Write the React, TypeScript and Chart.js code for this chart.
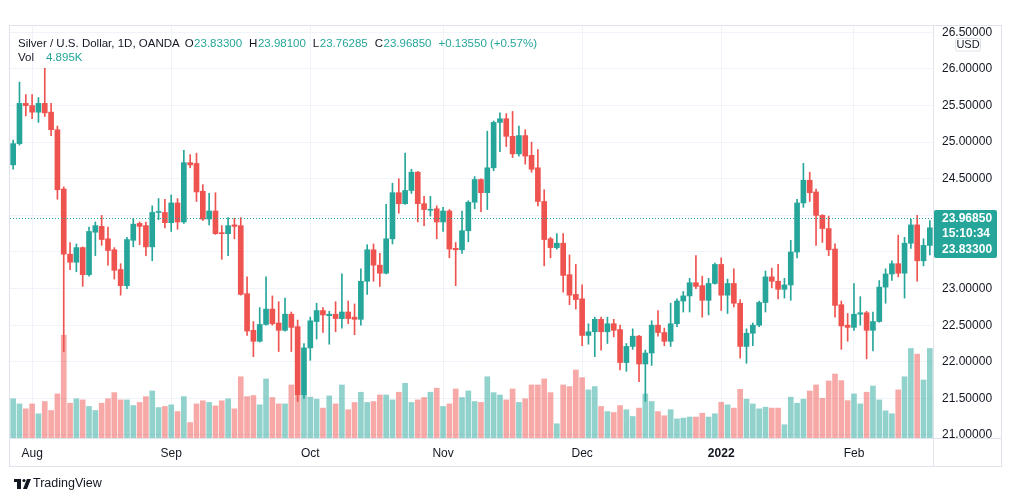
import React, { useEffect, useRef } from "react";
import { Chart, registerables } from "chart.js";

Chart.register(...registerables);

const FONT = "'Liberation Sans', Arial, sans-serif";
const UP = "#26a69a";
const DOWN = "#ef5350";
const UP_VOL = "rgba(38,166,154,0.5)";
const DOWN_VOL = "rgba(239,83,80,0.5)";
const TEXT = "#131722";
const GRID = "#f0f3fa";
const BORDER = "#e0e3eb";

const symbolTitle = "Silver / U.S. Dollar, 1D, OANDA";
const countdown = "15:10:34";
const currency = "USD";

const opens = [24.69,24.98,25.53,25.50,25.41,25.53,25.41,25.17,24.36,23.47,
23.36,23.56,23.19,23.77,23.85,23.68,23.53,23.26,23.04,23.66,
23.89,23.86,23.57,24.04,24.04,23.90,24.17,23.91,24.72,24.71,
24.33,23.95,24.06,23.76,23.75,23.87,23.86,22.93,22.43,22.28,
22.51,22.72,22.53,22.43,22.65,22.48,21.55,22.19,22.55,22.70,
22.63,22.65,22.59,22.68,22.61,22.58,23.10,23.53,23.32,23.21,
23.68,24.31,24.16,24.34,24.59,24.16,24.07,24.09,23.91,24.06,
23.55,23.53,23.79,24.18,24.49,24.31,24.65,25.27,25.32,25.08,
24.84,25.09,24.82,24.65,24.19,23.68,23.56,23.62,23.19,22.92,
22.86,22.36,22.41,22.58,22.41,22.52,22.44,21.99,22.21,22.35,
21.97,22.12,22.50,22.40,22.28,22.52,22.83,22.90,23.08,23.04,
22.84,23.07,23.33,22.91,23.07,22.80,22.21,22.39,22.50,22.81,
23.16,23.10,22.99,23.05,23.50,24.17,24.48,24.32,24.00,23.82,
23.54,22.78,22.50,22.47,22.65,22.67,22.43,22.55,23.02,23.20,
23.34,23.21,23.62,23.87,23.38,23.59,23.833];

const highs = [25.03,25.82,25.65,25.65,25.61,26.01,25.53,25.22,24.39,23.63,
23.61,23.57,23.84,23.91,24.00,23.84,23.56,23.34,23.70,23.96,
23.91,23.91,24.13,24.23,24.22,24.28,24.23,24.89,24.83,24.85,
24.42,24.30,24.31,23.86,23.97,23.96,23.97,23.16,22.55,22.74,
23.16,22.90,22.82,22.87,22.68,22.57,22.25,22.61,22.80,22.74,
22.69,22.82,23.20,22.83,22.79,23.27,23.60,23.61,23.48,24.15,
24.44,24.50,24.85,24.63,24.60,24.26,24.26,24.13,24.11,24.08,
23.63,24.06,24.20,24.53,24.50,25.15,25.29,25.40,25.39,25.42,
25.22,25.17,25.00,24.90,24.35,23.70,23.75,23.75,23.46,23.33,
23.05,22.52,22.61,22.61,22.61,22.58,22.50,22.25,22.45,22.36,
22.16,22.56,22.70,22.46,22.80,22.86,22.96,23.14,23.45,23.17,
23.14,23.35,23.42,23.13,23.27,22.85,22.45,22.53,22.83,23.24,
23.28,23.33,23.14,23.66,24.22,24.71,24.59,24.36,24.01,23.99,
23.61,22.83,22.66,23.07,22.89,22.69,22.68,23.11,23.27,23.38,
23.73,23.70,23.95,24.00,23.68,23.93,23.981];

const lows = [24.63,24.96,25.36,25.32,25.27,25.35,25.09,24.22,22.14,23.26,
23.23,23.03,23.17,23.45,23.59,23.32,23.13,22.91,23.00,23.57,
23.60,23.45,23.38,23.94,23.83,23.78,23.81,23.89,24.65,24.19,
23.93,23.87,23.74,23.40,23.45,23.68,22.91,22.36,22.07,22.27,
22.50,22.50,22.14,22.42,22.14,21.46,21.50,22.02,22.31,22.40,
22.24,22.41,22.46,22.52,22.37,22.50,22.92,23.10,23.03,23.20,
23.61,24.03,24.15,24.30,23.91,23.86,23.99,23.68,23.78,23.42,
23.04,23.48,23.64,24.09,24.05,24.08,24.61,24.87,24.94,24.79,
24.81,24.70,24.59,24.13,23.31,23.42,23.54,22.95,22.78,22.72,
22.22,22.24,22.07,22.16,22.25,22.34,21.89,21.87,22.17,21.73,
21.46,21.95,22.35,22.22,22.21,22.48,22.68,22.68,23.00,22.61,
22.64,23.06,22.70,22.66,22.75,22.05,21.98,22.22,22.48,22.68,
23.01,22.86,22.87,22.84,23.42,24.11,24.19,23.59,23.63,23.45,
22.61,22.17,22.28,22.43,22.50,22.04,22.15,22.54,22.80,23.11,
23.16,22.87,23.55,23.10,23.31,23.46,23.76285];

const closes = [24.98,25.53,25.50,25.41,25.53,25.40,25.17,24.35,23.47,23.36,
23.56,23.19,23.78,23.86,23.67,23.52,23.25,23.04,23.67,23.88,
23.85,23.57,24.04,24.05,23.90,24.17,23.91,24.72,24.69,24.32,
23.95,24.06,23.75,23.75,23.86,23.85,22.92,22.42,22.28,22.51,
22.72,22.52,22.43,22.65,22.47,21.55,22.19,22.56,22.70,22.64,
22.65,22.59,22.68,22.59,22.58,23.10,23.53,23.32,23.21,23.68,
24.31,24.16,24.34,24.59,24.16,24.08,24.08,23.91,24.06,23.54,
23.53,23.79,24.18,24.49,24.31,24.65,25.27,25.32,25.08,24.84,
25.09,24.81,24.63,24.19,23.67,23.56,23.62,23.18,22.91,22.85,
22.36,22.41,22.58,22.41,22.52,22.43,21.99,22.21,22.35,21.97,
22.12,22.50,22.40,22.28,22.52,22.83,22.90,23.08,23.03,22.84,
23.07,23.33,22.91,23.07,22.80,22.21,22.39,22.50,22.81,23.16,
23.10,22.99,23.05,23.50,24.17,24.48,24.31,24.00,23.82,23.53,
22.77,22.49,22.47,22.65,22.67,22.43,22.55,23.02,23.20,23.34,
23.21,23.62,23.87,23.38,23.59,23.83,23.9685];

// volume in thousands
const volumes = [2.15,1.87,1.60,1.87,1.33,2.00,1.51,2.42,5.64,1.91,
2.15,2.09,1.73,1.51,1.91,2.15,2.49,2.09,2.09,1.78,
1.95,2.27,2.58,1.67,1.73,1.82,1.45,2.27,0.85,1.87,
2.04,1.95,1.76,2.04,2.15,1.60,3.36,2.27,2.33,1.82,
3.24,2.22,1.87,1.87,2.91,2.36,2.36,2.24,2.13,1.64,
2.31,1.87,2.91,1.55,1.95,2.51,1.95,2.00,2.36,2.36,
2.09,2.51,3.00,1.95,2.09,2.22,2.51,2.73,1.73,1.87,
2.69,2.22,2.58,2.00,1.95,3.36,2.49,2.36,2.09,2.69,
1.95,2.15,2.91,2.91,3.24,2.49,0.78,2.91,2.82,3.73,
3.31,2.64,2.82,1.73,1.45,1.40,1.78,1.55,1.18,1.64,
2.42,2.00,1.45,1.22,1.55,1.05,1.09,1.15,1.15,1.36,
1.15,1.33,1.96,1.82,1.64,2.67,2.13,1.87,1.60,1.69,
1.64,1.64,0.73,2.24,1.91,2.13,2.58,2.91,2.18,3.13,
3.51,3.15,2.05,2.42,1.87,2.51,2.85,2.09,1.49,1.33,
2.64,3.36,4.91,4.60,3.18,4.91,4.895];

const monthTickLabels = ["Aug", "Sep", "Oct", "Nov", "Dec", "2022", "Feb"];
const priceTicks = [21.0, 21.5, 22.0, 22.5, 23.0, 23.5, 24.0, 24.5, 25.0, 25.5, 26.0, 26.5];
const closedDays = ["2021-12-24"];
const firstDay = "2021-07-28";

const PRICE_MIN = 20.959;
const PRICE_MAX = 26.587;
const VOL_MAX = 22.6;
const VISIBLE = 146;

function tradingDays(n: number): string[] {
  const out: string[] = [];
  const d = new Date(firstDay + "T00:00:00Z");
  while (out.length < n) {
    const wd = d.getUTCDay();
    const s = d.toISOString().slice(0, 10);
    if (wd !== 0 && wd !== 6 && !closedDays.includes(s)) out.push(s);
    d.setUTCDate(d.getUTCDate() + 1);
  }
  return out;
}

const dates = tradingDays(opens.length);

export default function App() {
  const ref = useRef<HTMLCanvasElement>(null);

  useEffect(() => {
    const canvas = ref.current;
    if (!canvas) return;
    const last = opens.length - 1;
    const n = VISIBLE;
    const isUp = (i: number) => closes[i] >= opens[i];
    const labels = dates.slice(0, n);
    const monthIdx: number[] = [];
    for (let i = 1; i < n; i++) {
      if (dates[i].slice(5, 7) !== dates[i - 1].slice(5, 7)) monthIdx.push(i);
    }
    const candleColors = labels.map((_, i) => (isUp(i) ? UP : DOWN));
    const volColors = labels.map((_, i) => (isUp(i) ? UP_VOL : DOWN_VOL));

    const overlay = {
      id: "overlay",
      afterDraw(chart: any) {
        const { ctx, chartArea: a, scales } = chart;
        const y = scales.y;
        ctx.save();
        const lastUp = closes[last] >= opens[last];
        const lastColor = lastUp ? UP : DOWN;
        const py = Math.round(y.getPixelForValue(closes[last])) + 0.5;
        ctx.strokeStyle = lastColor;
        ctx.lineWidth = 1;
        ctx.setLineDash([1, 2]);
        ctx.beginPath();
        ctx.moveTo(a.left, py);
        ctx.lineTo(a.right, py);
        ctx.stroke();
        ctx.setLineDash([]);

        ctx.fillStyle = "#ffffff";
        ctx.fillRect(a.right + 1, 0, 80, a.top);
        ctx.fillRect(a.right + 1, a.bottom + 1, 80, 28);

        ctx.strokeStyle = BORDER;
        ctx.lineWidth = 1;
        const L = 9.5, T = 25.5, R = 1001.5, B = 466.5;
        ctx.strokeRect(L, T, R - L, B - T);
        ctx.beginPath();
        ctx.moveTo(Math.round(a.right) + 0.5, T);
        ctx.lineTo(Math.round(a.right) + 0.5, B);
        ctx.moveTo(L, Math.round(a.bottom) + 0.5);
        ctx.lineTo(R, Math.round(a.bottom) + 0.5);
        ctx.stroke();

        const bx = Math.round(a.right) + 1;
        ctx.fillStyle = lastColor;
        ctx.beginPath();
        (ctx as any).roundRect(bx, py - 8.5, 997 - bx, 48, 2);
        ctx.fill();
        ctx.fillStyle = "#ffffff";
        ctx.font = `bold 12px ${FONT}`;
        ctx.textAlign = "left";
        ctx.textBaseline = "middle";
        const tx = a.right + 9;
        ctx.fillText(closes[last].toFixed(5), tx, py);
        ctx.fillText(countdown, tx, py + 15.5);
        ctx.fillText(opens[last].toFixed(5), tx, py + 31);

        ctx.fillStyle = "#ffffff";
        ctx.strokeStyle = BORDER;
        ctx.beginPath();
        (ctx as any).roundRect(955.5, 38.5, 25, 12.5, 2);
        ctx.fill();
        ctx.stroke();
        ctx.fillStyle = TEXT;
        ctx.font = `11px ${FONT}`;
        ctx.textAlign = "center";
        ctx.fillText(currency, 968, 45);

        // header legend
        ctx.textAlign = "left";
        ctx.font = `11.5px ${FONT}`;
        ctx.fillStyle = TEXT;
        ctx.fillText(symbolTitle, 18, 44);
        let x = 18 + ctx.measureText(symbolTitle).width + 5;
        const parts: [string, string][] = [
          ["O", opens[last].toFixed(5)],
          ["H", highs[last].toFixed(5)],
          ["L", lows[last].toFixed(5)],
          ["C", closes[last].toFixed(5)],
        ];
        for (const [k, v] of parts) {
          ctx.fillStyle = TEXT;
          ctx.fillText(k, x, 44);
          x += ctx.measureText(k).width + 0.5;
          ctx.fillStyle = lastColor;
          ctx.fillText(v, x, 44);
          x += ctx.measureText(v).width + 7;
        }
        const ch = closes[last] - opens[last];
        const pct = (ch / opens[last]) * 100;
        const sign = ch >= 0 ? "+" : "";
        ctx.fillStyle = lastColor;
        ctx.fillText(`${sign}${ch.toFixed(5)} (${sign}${pct.toFixed(2)}%)`, x, 44);
        ctx.fillStyle = TEXT;
        ctx.fillText("Vol", 18, 58);
        ctx.fillStyle = lastColor;
        ctx.fillText(`${volumes[last].toFixed(3)}K`, 46, 58);

        // TradingView logo
        ctx.fillStyle = TEXT;
        ctx.fillRect(14, 479, 7, 3);
        ctx.fillRect(17, 479, 4, 10);
        ctx.beginPath();
        ctx.arc(24, 480.5, 1.6, 0, Math.PI * 2);
        ctx.fill();
        ctx.beginPath();
        ctx.moveTo(27, 479);
        ctx.lineTo(31, 479);
        ctx.lineTo(27, 489);
        ctx.lineTo(23, 489);
        ctx.closePath();
        ctx.fill();
        ctx.font = `12.5px ${FONT}`;
        ctx.textBaseline = "middle";
        ctx.fillText("TradingView", 33, 484);
        ctx.restore();
      },
    };

    const chart = new Chart(canvas, {
      type: "bar",
      data: {
        labels,
        datasets: [
          {
            label: "Volume",
            data: volumes.slice(0, n),
            backgroundColor: volColors,
            yAxisID: "vol",
            barThickness: 5,
            grouped: false,
            order: 3,
          } as any,
          {
            label: "Wick",
            data: labels.map((_, i) => [lows[i], highs[i]]),
            backgroundColor: candleColors,
            yAxisID: "y",
            barThickness: 1,
            grouped: false,
            order: 2,
          },
          {
            label: "Body",
            data: labels.map((_, i) => [opens[i], closes[i]]),
            backgroundColor: candleColors,
            yAxisID: "y",
            barThickness: 5,
            minBarLength: 1,
            grouped: false,
            order: 1,
          },
        ],
      },
      options: {
        responsive: false,
        animation: false,
        events: [],
        layout: { padding: { left: 10, top: 26, right: 11, bottom: 35 } },
        plugins: { legend: { display: false }, tooltip: { enabled: false } },
        scales: {
          x: {
            type: "category",
            offset: true,
            afterBuildTicks: (axis: any) => {
              axis.ticks = monthIdx.map((v) => ({ value: v }));
            },
            afterFit: (axis: any) => {
              axis.height = 28;
            },
            grid: { color: GRID, offset: false, drawTicks: false },
            border: { display: false },
            ticks: {
              autoSkip: false,
              maxRotation: 0,
              padding: 8,
              color: TEXT,
              font: (c: any) => ({
                family: FONT,
                size: 12,
                weight: c.index === 5 ? "bold" : "normal",
              }),
              callback: (_v: any, i: number) => monthTickLabels[i] ?? "",
            },
          },
          y: {
            type: "linear",
            position: "right",
            min: PRICE_MIN,
            max: PRICE_MAX,
            afterBuildTicks: (axis: any) => {
              axis.ticks = priceTicks.map((v) => ({ value: v }));
            },
            afterFit: (axis: any) => {
              axis.width = 68;
            },
            grid: { color: GRID, drawTicks: false },
            border: { display: false },
            ticks: {
              padding: 9,
              color: TEXT,
              font: { family: FONT, size: 12 },
              callback: (v: any) => Number(v).toFixed(5),
            },
          },
          vol: {
            type: "linear",
            display: false,
            min: 0,
            max: VOL_MAX,
          },
        },
      },
      plugins: [overlay],
    } as any);

    return () => chart.destroy();
  }, []);

  return (
    <div style={{ position: "fixed", left: 0, top: 0, width: 1012, height: 501, background: "#ffffff" }}>
      <canvas ref={ref} width={1012} height={501} style={{ display: "block" }} />
    </div>
  );
}
